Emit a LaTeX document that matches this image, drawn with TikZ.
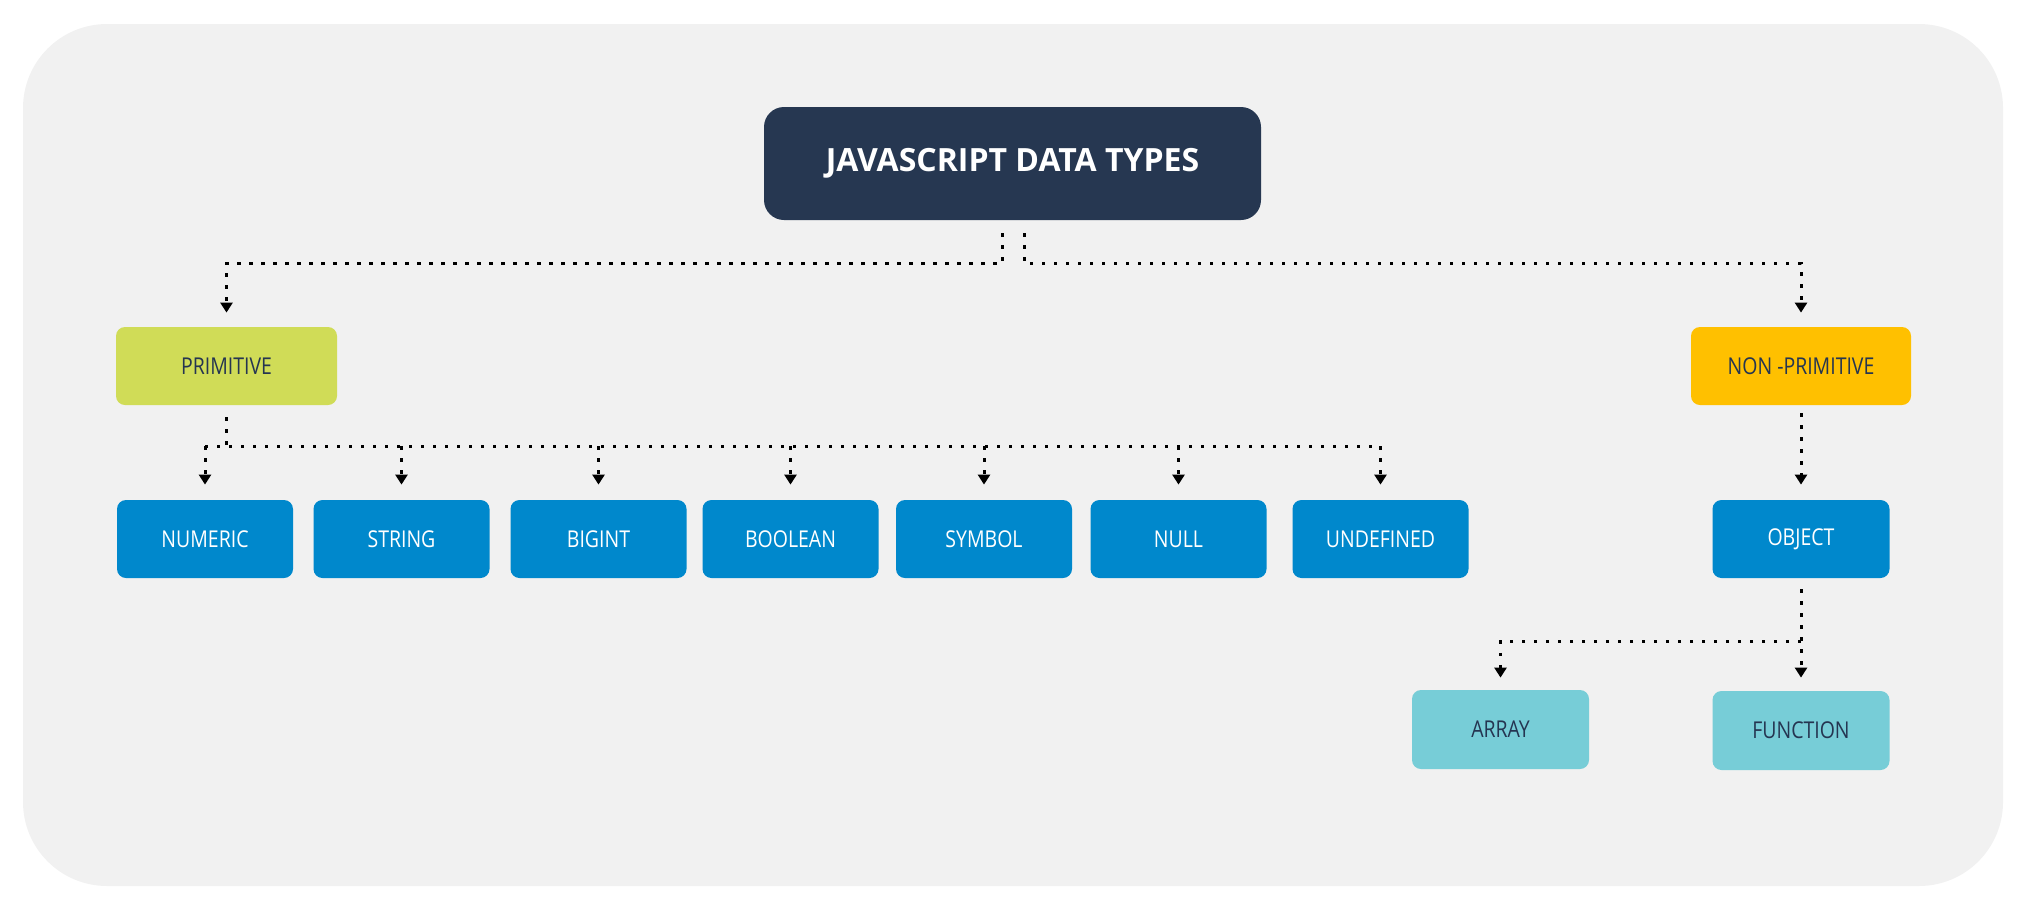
\documentclass[tikz,border=0pt]{standalone}
\usepackage{fontspec}
\setmainfont{Open Sans}
\newfontfamily\lblfont{Open Sans}[FakeStretch=0.84]
\usetikzlibrary{arrows.meta,calc}
\definecolor{bgc}{HTML}{F1F1F1}
\definecolor{navy}{HTML}{263751}
\definecolor{lime}{HTML}{D0DC57}
\definecolor{amber}{HTML}{FFC000}
\definecolor{bluec}{HTML}{0088CC}
\definecolor{teal}{HTML}{77CDD7}
\definecolor{txtdark}{HTML}{253551}
\tikzset{
  box/.style={rounded corners=4.5pt, minimum height=39pt, inner sep=0pt, font=\lblfont\fontsize{11.6}{13}\selectfont},
  titlebox/.style={fill=navy, text=white, rounded corners=10pt, minimum width=248.5pt, minimum height=56.5pt, inner sep=0pt, font=\bfseries\fontsize{16}{18}\selectfont},
  primbox/.style={box, fill=lime, text=txtdark, minimum width=110.5pt},
  nonprimbox/.style={box, fill=amber, text=txtdark, minimum width=110pt},
  bluebox/.style={box, fill=bluec, text=white, minimum width=88pt},
  objbox/.style={box, fill=bluec, text=white, minimum width=88.5pt},
  tealbox/.style={box, fill=teal, text=txtdark, minimum width=88.5pt, minimum height=39.5pt},
  dotline/.style={line width=1.5pt, dash pattern=on 1.6pt off 4.4pt, black},
  conn/.style={dotline, -{Triangle[width=6pt,length=5pt]}},
}
\begin{document}
\begin{tikzpicture}[x=0.5pt,y=-0.5pt]
\useasboundingbox (0,0) rectangle (2038,911);
\fill[bgc, rounded corners=42pt] (23,24) rectangle (2003,886);
% nodes
\node[titlebox] (title) at (1012.5,163.5) {JAVASCRIPT DATA TYPES};
\node[primbox] (prim) at (226.5,366) {PRIMITIVE};
\node[nonprimbox] (nonprim) at (1801,366) {NON -PRIMITIVE};
\node[bluebox] (numeric) at (205,539) {NUMERIC};
\node[bluebox] (string) at (401.5,539) {STRING};
\node[bluebox] (bigint) at (598.5,539) {BIGINT};
\node[bluebox] (boolean) at (790.5,539) {BOOLEAN};
\node[bluebox] (symbol) at (984,539) {SYMBOL};
\node[bluebox] (null) at (1178.5,539) {NULL};
\node[bluebox] (undefined) at (1380.5,539) {UNDEFINED};
\node[objbox] (object) at (1801,539) {OBJECT};
\node[tealbox] (array) at (1500.5,729.5) {ARRAY};
\node[tealbox] (function) at (1801,730.5) {FUNCTION};
% title connectors
\coordinate (tl) at ($(title.south)+(-10,13)$);
\coordinate (tr) at ($(title.south)+(11.5,13)$);
\coordinate (hl) at ($(title.south)+(-10,43)$);
\coordinate (hr) at ($(title.south)+(11.5,43)$);
\draw[conn, shorten >=7pt] (tl) -- (hl) -| (prim);
\draw[conn, shorten >=7pt] (tr) -- (hr) -| (nonprim);
% primitive branches
\coordinate (pb) at ($(prim.south)+(0,41)$);
\draw[dotline, shorten <=6pt] (prim.south) -- (pb);
\draw[dotline] (numeric |- pb) -- (undefined |- pb);
\foreach \c in {numeric,string,bigint,boolean,symbol,null,undefined}{
  \draw[conn, shorten >=7.5pt] (\c |- pb) -- (\c.north);
}
% non-primitive
\draw[conn, shorten <=4pt, shorten >=7.5pt] (nonprim.south) -- (object.north);
% object branches
\coordinate (ob) at ($(object.south)+(0,63)$);
\draw[conn, shorten <=5.5pt, shorten >=6.5pt] (object.south) -- (function.north);
\draw[conn, shorten >=6pt] (ob) -| (array.north);
\end{tikzpicture}
\end{document}
